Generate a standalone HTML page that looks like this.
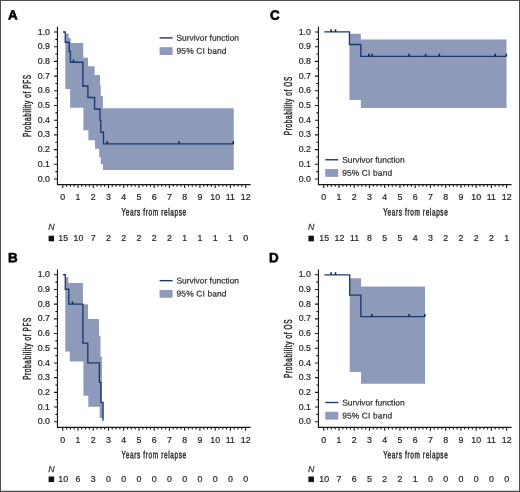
<!DOCTYPE html>
<html lang="en">
<head>
<meta charset="utf-8">
<title>Survival curves</title>
<style>
html,body{margin:0;padding:0;background:#fff;}
body{width:520px;height:492px;overflow:hidden;}
svg{display:block;}
text{font-family:"Liberation Sans",sans-serif;fill:#2b2b2b;}
.tk text{font-size:8.4px;fill:#262626;stroke:#262626;stroke-width:0.2px;}
.ti{font-size:10.4px;stroke:#2b2b2b;stroke-width:0.4px;vector-effect:non-scaling-stroke;}
.lg{font-size:8.4px;stroke:#2b2b2b;stroke-width:0.2px;}
.lt{font-size:13.4px;font-weight:bold;fill:#000;stroke:#000;stroke-width:0.6px;stroke-linejoin:round;}
.ni{font-size:8.8px;font-style:italic;stroke:#2b2b2b;stroke-width:0.2px;}
</style>
</head>
<body>
<svg width="520" height="492" viewBox="0 0 520 492" role="img" aria-label="Kaplan-Meier survival curves, panels A to D">
<rect x="0" y="0" width="520" height="492" fill="#fff"/>
<g transform="translate(0 0)">
<path d="M65.3 33.6 L68.7 33.6 L68.7 37.9 L70.6 37.9 L70.6 43 L83.25 43 L83.25 57.7 L88 57.7 L88 66.2 L94.6 66.2 L94.6 75.1 L100 75.1 L100 85.5 L100.8 85.5 L100.8 96.1 L102.9 96.1 L102.9 108.2 L233.75 108.2 L233.75 170.1 L103 170.1 L103 164.25 L100.8 164.25 L100.8 156.9 L99.2 156.9 L99.2 148.8 L95 148.8 L95 140.3 L88.4 140.3 L88.4 130.2 L83.4 130.2 L83.4 107.7 L70.1 107.7 L70.1 88.9 L65.3 88.9 Z" fill="#8e9aba"/>
<path d="M63 32 L65.3 32 L65.3 42.2 L69.2 42.2 L69.2 51.5 L70.4 51.5 L70.4 62.2 L82.9 62.2 L82.9 86 L87.9 86 L87.9 97.5 L94.6 97.5 L94.6 109 L100 109 L100 120.4 L100.8 120.4 L100.8 132.2 L103.5 132.2 L103.5 143.9 L233.75 143.9" fill="none" stroke="#1b3a6c" stroke-width="1.35" stroke-linejoin="miter"/>
<path d="M73.5 62.2 v-2.6M107.2 143.9 v-2.6M179 143.9 v-2.6M233.3 143.9 v-2.6" fill="none" stroke="#15294e" stroke-width="1.6"/>
<path d="M57.45 26.7 V184.55 H250.6" fill="none" stroke="#1a1a1a" stroke-width="1.15"/>
<path d="M57.45 179 h-3.5M57.45 171.65 h-2.1M57.45 164.3 h-3.5M57.45 156.95 h-2.1M57.45 149.6 h-3.5M57.45 142.25 h-2.1M57.45 134.9 h-3.5M57.45 127.55 h-2.1M57.45 120.2 h-3.5M57.45 112.85 h-2.1M57.45 105.5 h-3.5M57.45 98.15 h-2.1M57.45 90.8 h-3.5M57.45 83.45 h-2.1M57.45 76.1 h-3.5M57.45 68.75 h-2.1M57.45 61.4 h-3.5M57.45 54.05 h-2.1M57.45 46.7 h-3.5M57.45 39.35 h-2.1M57.45 32 h-3.5" fill="none" stroke="#1a1a1a" stroke-width="1.1"/>
<path d="M62.75 184.55 v3.5M66.56 184.55 v2.1M70.37 184.55 v2.1M74.18 184.55 v2.1M77.99 184.55 v3.5M81.8 184.55 v2.1M85.61 184.55 v2.1M89.42 184.55 v2.1M93.23 184.55 v3.5M97.04 184.55 v2.1M100.85 184.55 v2.1M104.66 184.55 v2.1M108.47 184.55 v3.5M112.28 184.55 v2.1M116.09 184.55 v2.1M119.9 184.55 v2.1M123.71 184.55 v3.5M127.52 184.55 v2.1M131.33 184.55 v2.1M135.14 184.55 v2.1M138.95 184.55 v3.5M142.76 184.55 v2.1M146.57 184.55 v2.1M150.38 184.55 v2.1M154.19 184.55 v3.5M158 184.55 v2.1M161.81 184.55 v2.1M165.62 184.55 v2.1M169.43 184.55 v3.5M173.24 184.55 v2.1M177.05 184.55 v2.1M180.86 184.55 v2.1M184.67 184.55 v3.5M188.48 184.55 v2.1M192.29 184.55 v2.1M196.1 184.55 v2.1M199.91 184.55 v3.5M203.72 184.55 v2.1M207.53 184.55 v2.1M211.34 184.55 v2.1M215.15 184.55 v3.5M218.96 184.55 v2.1M222.77 184.55 v2.1M226.58 184.55 v2.1M230.39 184.55 v3.5M234.2 184.55 v2.1M238.01 184.55 v2.1M241.82 184.55 v2.1M245.63 184.55 v3.5" fill="none" stroke="#1a1a1a" stroke-width="1.1"/>
<g class="tk" text-anchor="end">
<text transform="matrix(1.05 0.0005 0 1 49.9 181.6)">0.0</text>
<text transform="matrix(1.05 0.0005 0 1 49.9 166.9)">0.1</text>
<text transform="matrix(1.05 0.0005 0 1 49.9 152.2)">0.2</text>
<text transform="matrix(1.05 0.0005 0 1 49.9 137.5)">0.3</text>
<text transform="matrix(1.05 0.0005 0 1 49.9 122.8)">0.4</text>
<text transform="matrix(1.05 0.0005 0 1 49.9 108.1)">0.5</text>
<text transform="matrix(1.05 0.0005 0 1 49.9 93.4)">0.6</text>
<text transform="matrix(1.05 0.0005 0 1 49.9 78.7)">0.7</text>
<text transform="matrix(1.05 0.0005 0 1 49.9 64)">0.8</text>
<text transform="matrix(1.05 0.0005 0 1 49.9 49.3)">0.9</text>
<text transform="matrix(1.05 0.0005 0 1 49.9 34.6)">1.0</text>
</g>
<g class="tk" text-anchor="middle">
<text transform="matrix(1.05 0.0005 0 1 62.75 199.85)">0</text>
<text transform="matrix(1.05 0.0005 0 1 77.99 199.85)">1</text>
<text transform="matrix(1.05 0.0005 0 1 93.23 199.85)">2</text>
<text transform="matrix(1.05 0.0005 0 1 108.47 199.85)">3</text>
<text transform="matrix(1.05 0.0005 0 1 123.71 199.85)">4</text>
<text transform="matrix(1.05 0.0005 0 1 138.95 199.85)">5</text>
<text transform="matrix(1.05 0.0005 0 1 154.19 199.85)">6</text>
<text transform="matrix(1.05 0.0005 0 1 169.43 199.85)">7</text>
<text transform="matrix(1.05 0.0005 0 1 184.67 199.85)">8</text>
<text transform="matrix(1.05 0.0005 0 1 199.91 199.85)">9</text>
<text transform="matrix(1.05 0.0005 0 1 215.15 199.85)">10</text>
<text transform="matrix(1.05 0.0005 0 1 230.39 199.85)">11</text>
<text transform="matrix(1.05 0.0005 0 1 245.63 199.85)">12</text>
</g>
<text class="ti" text-anchor="middle" textLength="104.19" lengthAdjust="spacing" transform="matrix(0.62 0.0005 0 1 153.8 215.6)">Years from relapse</text>
<text class="ti" text-anchor="middle" textLength="100.32" lengthAdjust="spacing" transform="translate(30.8 106) rotate(-90) scale(0.62 1)">Probability of PFS</text>
<text class="lt" transform="matrix(1 0.0005 0 1 8.1 19.4)">A</text>
<path d="M159.6 37.9 h13" stroke="#1a3a6c" stroke-width="1.4" fill="none"/>
<rect x="159.6" y="47.2" width="13" height="7.8" fill="#8e9aba"/>
<text class="lg" transform="matrix(1 0.0005 0 1 176.5 40.8)">Survivor function</text>
<text class="lg" textLength="50" lengthAdjust="spacing" transform="matrix(1 0.0005 0 1 176.5 53.85)">95% CI band</text>
<text class="ni" transform="matrix(1 0.0005 0 1 48.3 230)">N</text>
<rect x="48.6" y="235.7" width="5.5" height="5.6" fill="#111"/>
<g class="tk" text-anchor="middle">
<text transform="matrix(1.05 0.0005 0 1 63.15 241)">15</text>
<text transform="matrix(1.05 0.0005 0 1 78.39 241)">10</text>
<text transform="matrix(1.05 0.0005 0 1 93.23 241)">7</text>
<text transform="matrix(1.05 0.0005 0 1 108.47 241)">2</text>
<text transform="matrix(1.05 0.0005 0 1 123.71 241)">2</text>
<text transform="matrix(1.05 0.0005 0 1 138.95 241)">2</text>
<text transform="matrix(1.05 0.0005 0 1 154.19 241)">2</text>
<text transform="matrix(1.05 0.0005 0 1 169.43 241)">2</text>
<text transform="matrix(1.05 0.0005 0 1 184.67 241)">1</text>
<text transform="matrix(1.05 0.0005 0 1 199.91 241)">1</text>
<text transform="matrix(1.05 0.0005 0 1 215.15 241)">1</text>
<text transform="matrix(1.05 0.0005 0 1 230.39 241)">1</text>
<text transform="matrix(1.05 0.0005 0 1 245.63 241)">0</text>
</g>
</g>
<g transform="translate(0 242.75)">
<path d="M65.3 34.5 L68.4 34.5 L68.4 40.2 L82.9 40.2 L82.9 61.4 L88 61.4 L88 76.3 L99 76.3 L99 93.05 L100.5 93.05 L100.5 114.35 L101.9 114.35 L101.9 159.6 L103.3 159.6 L103.3 175.3 L99.7 175.3 L99.7 163.9 L88.3 163.9 L88.3 153.1 L83.4 153.1 L83.4 118.85 L69.7 118.85 L69.7 108.65 L65.3 108.65 Z" fill="#8e9aba"/>
<path d="M63 32 L65.3 32 L65.3 46.5 L68.8 46.5 L68.8 61.4 L82.9 61.4 L82.9 100.3 L87.8 100.3 L87.8 120.1 L99.4 120.1 L99.4 139.6 L100.9 139.6 L100.9 159.6 L103 159.6 L103 177.9" fill="none" stroke="#1b3a6c" stroke-width="1.35" stroke-linejoin="miter"/>
<path d="M72.5 61.4 v-2.6" fill="none" stroke="#15294e" stroke-width="1.6"/>
<path d="M57.45 26.7 V184.55 H250.6" fill="none" stroke="#1a1a1a" stroke-width="1.15"/>
<path d="M57.45 179 h-3.5M57.45 171.65 h-2.1M57.45 164.3 h-3.5M57.45 156.95 h-2.1M57.45 149.6 h-3.5M57.45 142.25 h-2.1M57.45 134.9 h-3.5M57.45 127.55 h-2.1M57.45 120.2 h-3.5M57.45 112.85 h-2.1M57.45 105.5 h-3.5M57.45 98.15 h-2.1M57.45 90.8 h-3.5M57.45 83.45 h-2.1M57.45 76.1 h-3.5M57.45 68.75 h-2.1M57.45 61.4 h-3.5M57.45 54.05 h-2.1M57.45 46.7 h-3.5M57.45 39.35 h-2.1M57.45 32 h-3.5" fill="none" stroke="#1a1a1a" stroke-width="1.1"/>
<path d="M62.75 184.55 v3.5M66.56 184.55 v2.1M70.37 184.55 v2.1M74.18 184.55 v2.1M77.99 184.55 v3.5M81.8 184.55 v2.1M85.61 184.55 v2.1M89.42 184.55 v2.1M93.23 184.55 v3.5M97.04 184.55 v2.1M100.85 184.55 v2.1M104.66 184.55 v2.1M108.47 184.55 v3.5M112.28 184.55 v2.1M116.09 184.55 v2.1M119.9 184.55 v2.1M123.71 184.55 v3.5M127.52 184.55 v2.1M131.33 184.55 v2.1M135.14 184.55 v2.1M138.95 184.55 v3.5M142.76 184.55 v2.1M146.57 184.55 v2.1M150.38 184.55 v2.1M154.19 184.55 v3.5M158 184.55 v2.1M161.81 184.55 v2.1M165.62 184.55 v2.1M169.43 184.55 v3.5M173.24 184.55 v2.1M177.05 184.55 v2.1M180.86 184.55 v2.1M184.67 184.55 v3.5M188.48 184.55 v2.1M192.29 184.55 v2.1M196.1 184.55 v2.1M199.91 184.55 v3.5M203.72 184.55 v2.1M207.53 184.55 v2.1M211.34 184.55 v2.1M215.15 184.55 v3.5M218.96 184.55 v2.1M222.77 184.55 v2.1M226.58 184.55 v2.1M230.39 184.55 v3.5M234.2 184.55 v2.1M238.01 184.55 v2.1M241.82 184.55 v2.1M245.63 184.55 v3.5" fill="none" stroke="#1a1a1a" stroke-width="1.1"/>
<g class="tk" text-anchor="end">
<text transform="matrix(1.05 0.0005 0 1 49.9 181.6)">0.0</text>
<text transform="matrix(1.05 0.0005 0 1 49.9 166.9)">0.1</text>
<text transform="matrix(1.05 0.0005 0 1 49.9 152.2)">0.2</text>
<text transform="matrix(1.05 0.0005 0 1 49.9 137.5)">0.3</text>
<text transform="matrix(1.05 0.0005 0 1 49.9 122.8)">0.4</text>
<text transform="matrix(1.05 0.0005 0 1 49.9 108.1)">0.5</text>
<text transform="matrix(1.05 0.0005 0 1 49.9 93.4)">0.6</text>
<text transform="matrix(1.05 0.0005 0 1 49.9 78.7)">0.7</text>
<text transform="matrix(1.05 0.0005 0 1 49.9 64)">0.8</text>
<text transform="matrix(1.05 0.0005 0 1 49.9 49.3)">0.9</text>
<text transform="matrix(1.05 0.0005 0 1 49.9 34.6)">1.0</text>
</g>
<g class="tk" text-anchor="middle">
<text transform="matrix(1.05 0.0005 0 1 62.75 199.85)">0</text>
<text transform="matrix(1.05 0.0005 0 1 77.99 199.85)">1</text>
<text transform="matrix(1.05 0.0005 0 1 93.23 199.85)">2</text>
<text transform="matrix(1.05 0.0005 0 1 108.47 199.85)">3</text>
<text transform="matrix(1.05 0.0005 0 1 123.71 199.85)">4</text>
<text transform="matrix(1.05 0.0005 0 1 138.95 199.85)">5</text>
<text transform="matrix(1.05 0.0005 0 1 154.19 199.85)">6</text>
<text transform="matrix(1.05 0.0005 0 1 169.43 199.85)">7</text>
<text transform="matrix(1.05 0.0005 0 1 184.67 199.85)">8</text>
<text transform="matrix(1.05 0.0005 0 1 199.91 199.85)">9</text>
<text transform="matrix(1.05 0.0005 0 1 215.15 199.85)">10</text>
<text transform="matrix(1.05 0.0005 0 1 230.39 199.85)">11</text>
<text transform="matrix(1.05 0.0005 0 1 245.63 199.85)">12</text>
</g>
<text class="ti" text-anchor="middle" textLength="104.19" lengthAdjust="spacing" transform="matrix(0.62 0.0005 0 1 153.8 215.6)">Years from relapse</text>
<text class="ti" text-anchor="middle" textLength="100.32" lengthAdjust="spacing" transform="translate(30.8 106) rotate(-90) scale(0.62 1)">Probability of PFS</text>
<text class="lt" transform="matrix(1 0.0005 0 1 8.1 19.4)">B</text>
<path d="M159.6 37.9 h13" stroke="#1a3a6c" stroke-width="1.4" fill="none"/>
<rect x="159.6" y="47.2" width="13" height="7.8" fill="#8e9aba"/>
<text class="lg" transform="matrix(1 0.0005 0 1 176.5 40.8)">Survivor function</text>
<text class="lg" textLength="50" lengthAdjust="spacing" transform="matrix(1 0.0005 0 1 176.5 53.85)">95% CI band</text>
<text class="ni" transform="matrix(1 0.0005 0 1 48.3 229.4)">N</text>
<rect x="48.6" y="233.75" width="5.5" height="5.6" fill="#111"/>
<g class="tk" text-anchor="middle">
<text transform="matrix(1.05 0.0005 0 1 63.15 238.85)">10</text>
<text transform="matrix(1.05 0.0005 0 1 77.99 238.85)">6</text>
<text transform="matrix(1.05 0.0005 0 1 93.23 238.85)">3</text>
<text transform="matrix(1.05 0.0005 0 1 108.47 238.85)">0</text>
<text transform="matrix(1.05 0.0005 0 1 123.71 238.85)">0</text>
<text transform="matrix(1.05 0.0005 0 1 138.95 238.85)">0</text>
<text transform="matrix(1.05 0.0005 0 1 154.19 238.85)">0</text>
<text transform="matrix(1.05 0.0005 0 1 169.43 238.85)">0</text>
<text transform="matrix(1.05 0.0005 0 1 184.67 238.85)">0</text>
<text transform="matrix(1.05 0.0005 0 1 199.91 238.85)">0</text>
<text transform="matrix(1.05 0.0005 0 1 215.15 238.85)">0</text>
<text transform="matrix(1.05 0.0005 0 1 230.39 238.85)">0</text>
<text transform="matrix(1.05 0.0005 0 1 245.63 238.85)">0</text>
</g>
</g>
<g transform="translate(261 0)">
<path d="M88.45 33.8 L99.85 33.8 L99.85 39.6 L245.5 39.6 L245.5 108.1 L99.85 108.1 L99.85 99.9 L88.45 99.9 Z" fill="#8e9aba"/>
<path d="M63.35 31.9 L88.45 31.9 L88.45 44.5 L99.8 44.5 L99.8 56.35 L245.5 56.35" fill="none" stroke="#1b3a6c" stroke-width="1.35" stroke-linejoin="miter"/>
<path d="M70.1 31.9 v-2.6M74.5 31.9 v-2.6M107.9 56.35 v-2.6M111.1 56.35 v-2.6M148.1 56.35 v-2.6M164.6 56.35 v-2.6M178.3 56.35 v-2.6M234.2 56.35 v-2.6M245.3 56.35 v-2.6" fill="none" stroke="#15294e" stroke-width="1.6"/>
<path d="M57.45 26.7 V184.55 H250.6" fill="none" stroke="#1a1a1a" stroke-width="1.15"/>
<path d="M57.45 179 h-3.5M57.45 171.65 h-2.1M57.45 164.3 h-3.5M57.45 156.95 h-2.1M57.45 149.6 h-3.5M57.45 142.25 h-2.1M57.45 134.9 h-3.5M57.45 127.55 h-2.1M57.45 120.2 h-3.5M57.45 112.85 h-2.1M57.45 105.5 h-3.5M57.45 98.15 h-2.1M57.45 90.8 h-3.5M57.45 83.45 h-2.1M57.45 76.1 h-3.5M57.45 68.75 h-2.1M57.45 61.4 h-3.5M57.45 54.05 h-2.1M57.45 46.7 h-3.5M57.45 39.35 h-2.1M57.45 32 h-3.5" fill="none" stroke="#1a1a1a" stroke-width="1.1"/>
<path d="M62.75 184.55 v3.5M66.56 184.55 v2.1M70.37 184.55 v2.1M74.18 184.55 v2.1M77.99 184.55 v3.5M81.8 184.55 v2.1M85.61 184.55 v2.1M89.42 184.55 v2.1M93.23 184.55 v3.5M97.04 184.55 v2.1M100.85 184.55 v2.1M104.66 184.55 v2.1M108.47 184.55 v3.5M112.28 184.55 v2.1M116.09 184.55 v2.1M119.9 184.55 v2.1M123.71 184.55 v3.5M127.52 184.55 v2.1M131.33 184.55 v2.1M135.14 184.55 v2.1M138.95 184.55 v3.5M142.76 184.55 v2.1M146.57 184.55 v2.1M150.38 184.55 v2.1M154.19 184.55 v3.5M158 184.55 v2.1M161.81 184.55 v2.1M165.62 184.55 v2.1M169.43 184.55 v3.5M173.24 184.55 v2.1M177.05 184.55 v2.1M180.86 184.55 v2.1M184.67 184.55 v3.5M188.48 184.55 v2.1M192.29 184.55 v2.1M196.1 184.55 v2.1M199.91 184.55 v3.5M203.72 184.55 v2.1M207.53 184.55 v2.1M211.34 184.55 v2.1M215.15 184.55 v3.5M218.96 184.55 v2.1M222.77 184.55 v2.1M226.58 184.55 v2.1M230.39 184.55 v3.5M234.2 184.55 v2.1M238.01 184.55 v2.1M241.82 184.55 v2.1M245.63 184.55 v3.5" fill="none" stroke="#1a1a1a" stroke-width="1.1"/>
<g class="tk" text-anchor="end">
<text transform="matrix(1.05 0.0005 0 1 49.9 181.6)">0.0</text>
<text transform="matrix(1.05 0.0005 0 1 49.9 166.9)">0.1</text>
<text transform="matrix(1.05 0.0005 0 1 49.9 152.2)">0.2</text>
<text transform="matrix(1.05 0.0005 0 1 49.9 137.5)">0.3</text>
<text transform="matrix(1.05 0.0005 0 1 49.9 122.8)">0.4</text>
<text transform="matrix(1.05 0.0005 0 1 49.9 108.1)">0.5</text>
<text transform="matrix(1.05 0.0005 0 1 49.9 93.4)">0.6</text>
<text transform="matrix(1.05 0.0005 0 1 49.9 78.7)">0.7</text>
<text transform="matrix(1.05 0.0005 0 1 49.9 64)">0.8</text>
<text transform="matrix(1.05 0.0005 0 1 49.9 49.3)">0.9</text>
<text transform="matrix(1.05 0.0005 0 1 49.9 34.6)">1.0</text>
</g>
<g class="tk" text-anchor="middle">
<text transform="matrix(1.05 0.0005 0 1 62.75 199.85)">0</text>
<text transform="matrix(1.05 0.0005 0 1 77.99 199.85)">1</text>
<text transform="matrix(1.05 0.0005 0 1 93.23 199.85)">2</text>
<text transform="matrix(1.05 0.0005 0 1 108.47 199.85)">3</text>
<text transform="matrix(1.05 0.0005 0 1 123.71 199.85)">4</text>
<text transform="matrix(1.05 0.0005 0 1 138.95 199.85)">5</text>
<text transform="matrix(1.05 0.0005 0 1 154.19 199.85)">6</text>
<text transform="matrix(1.05 0.0005 0 1 169.43 199.85)">7</text>
<text transform="matrix(1.05 0.0005 0 1 184.67 199.85)">8</text>
<text transform="matrix(1.05 0.0005 0 1 199.91 199.85)">9</text>
<text transform="matrix(1.05 0.0005 0 1 215.15 199.85)">10</text>
<text transform="matrix(1.05 0.0005 0 1 230.39 199.85)">11</text>
<text transform="matrix(1.05 0.0005 0 1 245.63 199.85)">12</text>
</g>
<text class="ti" text-anchor="middle" textLength="104.19" lengthAdjust="spacing" transform="matrix(0.62 0.0005 0 1 154.5 215.6)">Years from relapse</text>
<text class="ti" text-anchor="middle" textLength="94.19" lengthAdjust="spacing" transform="translate(30.8 106) rotate(-90) scale(0.62 1)">Probability of OS</text>
<text class="lt" transform="matrix(1 0.0005 0 1 9 19.7)">C</text>
<path d="M64.25 159.75 h13" stroke="#1a3a6c" stroke-width="1.4" fill="none"/>
<rect x="64.25" y="169.05" width="13" height="7.8" fill="#8e9aba"/>
<text class="lg" transform="matrix(1 0.0005 0 1 81.15 162.65)">Survivor function</text>
<text class="lg" textLength="50" lengthAdjust="spacing" transform="matrix(1 0.0005 0 1 81.15 175.7)">95% CI band</text>
<text class="ni" transform="matrix(1 0.0005 0 1 47.1 229.9)">N</text>
<rect x="47.4" y="235.7" width="5.5" height="5.6" fill="#111"/>
<g class="tk" text-anchor="middle">
<text transform="matrix(1.05 0.0005 0 1 63.15 241.2)">15</text>
<text transform="matrix(1.05 0.0005 0 1 78.39 241.2)">12</text>
<text transform="matrix(1.05 0.0005 0 1 93.63 241.2)">11</text>
<text transform="matrix(1.05 0.0005 0 1 108.47 241.2)">8</text>
<text transform="matrix(1.05 0.0005 0 1 123.71 241.2)">5</text>
<text transform="matrix(1.05 0.0005 0 1 138.95 241.2)">5</text>
<text transform="matrix(1.05 0.0005 0 1 154.19 241.2)">4</text>
<text transform="matrix(1.05 0.0005 0 1 169.43 241.2)">3</text>
<text transform="matrix(1.05 0.0005 0 1 184.67 241.2)">2</text>
<text transform="matrix(1.05 0.0005 0 1 199.91 241.2)">2</text>
<text transform="matrix(1.05 0.0005 0 1 215.15 241.2)">2</text>
<text transform="matrix(1.05 0.0005 0 1 230.39 241.2)">2</text>
<text transform="matrix(1.05 0.0005 0 1 245.63 241.2)">1</text>
</g>
</g>
<g transform="translate(261 242.75)">
<path d="M88.7 35.45 L100 35.45 L100 43.75 L164 43.75 L164 140.95 L100 140.95 L100 129.25 L88.7 129.25 Z" fill="#8e9aba"/>
<path d="M63.35 32.05 L88.7 32.05 L88.7 52.35 L99.85 52.35 L99.85 73.9 L164 73.9" fill="none" stroke="#1b3a6c" stroke-width="1.35" stroke-linejoin="miter"/>
<path d="M70.1 32.05 v-2.6M74.5 32.05 v-2.6M110.9 73.9 v-2.6M148.15 73.9 v-2.6M163.8 73.9 v-2.6" fill="none" stroke="#15294e" stroke-width="1.6"/>
<path d="M57.45 26.7 V184.55 H250.6" fill="none" stroke="#1a1a1a" stroke-width="1.15"/>
<path d="M57.45 179 h-3.5M57.45 171.65 h-2.1M57.45 164.3 h-3.5M57.45 156.95 h-2.1M57.45 149.6 h-3.5M57.45 142.25 h-2.1M57.45 134.9 h-3.5M57.45 127.55 h-2.1M57.45 120.2 h-3.5M57.45 112.85 h-2.1M57.45 105.5 h-3.5M57.45 98.15 h-2.1M57.45 90.8 h-3.5M57.45 83.45 h-2.1M57.45 76.1 h-3.5M57.45 68.75 h-2.1M57.45 61.4 h-3.5M57.45 54.05 h-2.1M57.45 46.7 h-3.5M57.45 39.35 h-2.1M57.45 32 h-3.5" fill="none" stroke="#1a1a1a" stroke-width="1.1"/>
<path d="M62.75 184.55 v3.5M66.56 184.55 v2.1M70.37 184.55 v2.1M74.18 184.55 v2.1M77.99 184.55 v3.5M81.8 184.55 v2.1M85.61 184.55 v2.1M89.42 184.55 v2.1M93.23 184.55 v3.5M97.04 184.55 v2.1M100.85 184.55 v2.1M104.66 184.55 v2.1M108.47 184.55 v3.5M112.28 184.55 v2.1M116.09 184.55 v2.1M119.9 184.55 v2.1M123.71 184.55 v3.5M127.52 184.55 v2.1M131.33 184.55 v2.1M135.14 184.55 v2.1M138.95 184.55 v3.5M142.76 184.55 v2.1M146.57 184.55 v2.1M150.38 184.55 v2.1M154.19 184.55 v3.5M158 184.55 v2.1M161.81 184.55 v2.1M165.62 184.55 v2.1M169.43 184.55 v3.5M173.24 184.55 v2.1M177.05 184.55 v2.1M180.86 184.55 v2.1M184.67 184.55 v3.5M188.48 184.55 v2.1M192.29 184.55 v2.1M196.1 184.55 v2.1M199.91 184.55 v3.5M203.72 184.55 v2.1M207.53 184.55 v2.1M211.34 184.55 v2.1M215.15 184.55 v3.5M218.96 184.55 v2.1M222.77 184.55 v2.1M226.58 184.55 v2.1M230.39 184.55 v3.5M234.2 184.55 v2.1M238.01 184.55 v2.1M241.82 184.55 v2.1M245.63 184.55 v3.5" fill="none" stroke="#1a1a1a" stroke-width="1.1"/>
<g class="tk" text-anchor="end">
<text transform="matrix(1.05 0.0005 0 1 49.9 181.6)">0.0</text>
<text transform="matrix(1.05 0.0005 0 1 49.9 166.9)">0.1</text>
<text transform="matrix(1.05 0.0005 0 1 49.9 152.2)">0.2</text>
<text transform="matrix(1.05 0.0005 0 1 49.9 137.5)">0.3</text>
<text transform="matrix(1.05 0.0005 0 1 49.9 122.8)">0.4</text>
<text transform="matrix(1.05 0.0005 0 1 49.9 108.1)">0.5</text>
<text transform="matrix(1.05 0.0005 0 1 49.9 93.4)">0.6</text>
<text transform="matrix(1.05 0.0005 0 1 49.9 78.7)">0.7</text>
<text transform="matrix(1.05 0.0005 0 1 49.9 64)">0.8</text>
<text transform="matrix(1.05 0.0005 0 1 49.9 49.3)">0.9</text>
<text transform="matrix(1.05 0.0005 0 1 49.9 34.6)">1.0</text>
</g>
<g class="tk" text-anchor="middle">
<text transform="matrix(1.05 0.0005 0 1 62.75 199.85)">0</text>
<text transform="matrix(1.05 0.0005 0 1 77.99 199.85)">1</text>
<text transform="matrix(1.05 0.0005 0 1 93.23 199.85)">2</text>
<text transform="matrix(1.05 0.0005 0 1 108.47 199.85)">3</text>
<text transform="matrix(1.05 0.0005 0 1 123.71 199.85)">4</text>
<text transform="matrix(1.05 0.0005 0 1 138.95 199.85)">5</text>
<text transform="matrix(1.05 0.0005 0 1 154.19 199.85)">6</text>
<text transform="matrix(1.05 0.0005 0 1 169.43 199.85)">7</text>
<text transform="matrix(1.05 0.0005 0 1 184.67 199.85)">8</text>
<text transform="matrix(1.05 0.0005 0 1 199.91 199.85)">9</text>
<text transform="matrix(1.05 0.0005 0 1 215.15 199.85)">10</text>
<text transform="matrix(1.05 0.0005 0 1 230.39 199.85)">11</text>
<text transform="matrix(1.05 0.0005 0 1 245.63 199.85)">12</text>
</g>
<text class="ti" text-anchor="middle" textLength="104.19" lengthAdjust="spacing" transform="matrix(0.62 0.0005 0 1 154.5 215.6)">Years from relapse</text>
<text class="ti" text-anchor="middle" textLength="94.19" lengthAdjust="spacing" transform="translate(30.8 106) rotate(-90) scale(0.62 1)">Probability of OS</text>
<text class="lt" transform="matrix(1 0.0005 0 1 8.1 19.4)">D</text>
<path d="M64.25 159.75 h13" stroke="#1a3a6c" stroke-width="1.4" fill="none"/>
<rect x="64.25" y="169.05" width="13" height="7.8" fill="#8e9aba"/>
<text class="lg" transform="matrix(1 0.0005 0 1 81.15 162.65)">Survivor function</text>
<text class="lg" textLength="50" lengthAdjust="spacing" transform="matrix(1 0.0005 0 1 81.15 175.7)">95% CI band</text>
<text class="ni" transform="matrix(1 0.0005 0 1 47.1 229.4)">N</text>
<rect x="47.4" y="233.75" width="5.5" height="5.6" fill="#111"/>
<g class="tk" text-anchor="middle">
<text transform="matrix(1.05 0.0005 0 1 63.15 238.85)">10</text>
<text transform="matrix(1.05 0.0005 0 1 77.99 238.85)">7</text>
<text transform="matrix(1.05 0.0005 0 1 93.23 238.85)">6</text>
<text transform="matrix(1.05 0.0005 0 1 108.47 238.85)">5</text>
<text transform="matrix(1.05 0.0005 0 1 123.71 238.85)">2</text>
<text transform="matrix(1.05 0.0005 0 1 138.95 238.85)">2</text>
<text transform="matrix(1.05 0.0005 0 1 154.19 238.85)">1</text>
<text transform="matrix(1.05 0.0005 0 1 169.43 238.85)">0</text>
<text transform="matrix(1.05 0.0005 0 1 184.67 238.85)">0</text>
<text transform="matrix(1.05 0.0005 0 1 199.91 238.85)">0</text>
<text transform="matrix(1.05 0.0005 0 1 215.15 238.85)">0</text>
<text transform="matrix(1.05 0.0005 0 1 230.39 238.85)">0</text>
<text transform="matrix(1.05 0.0005 0 1 245.63 238.85)">0</text>
</g>
</g>
<path d="M0 0.5 H520" stroke="#4d4d4d" stroke-width="1" fill="none"/>
<path d="M0.5 0 V492" stroke="#4d4d4d" stroke-width="1" fill="none"/>
<path d="M519.5 0 V492" stroke="#4d4d4d" stroke-width="1" fill="none"/>
<path d="M0 491.4 H520" stroke="#4d4d4d" stroke-width="1.2" fill="none"/>
</svg>
</body>
</html>
